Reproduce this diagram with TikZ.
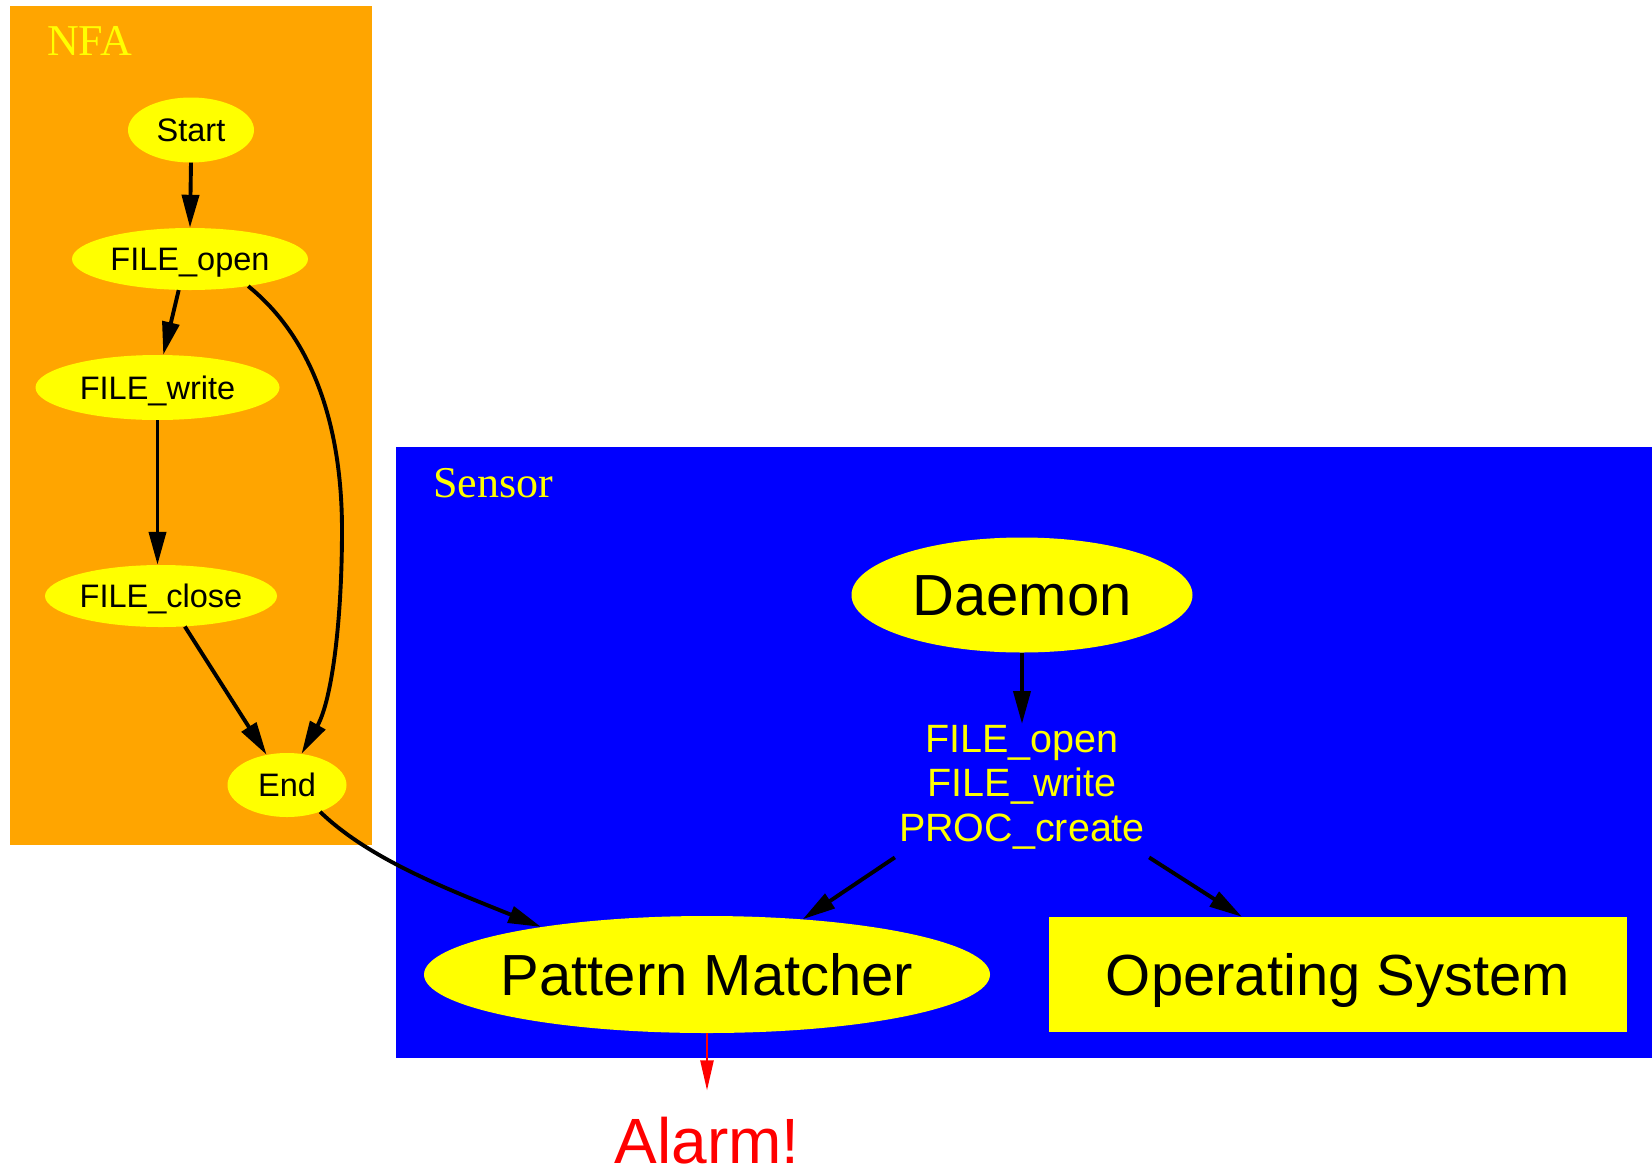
\documentclass[tikz,border=0pt]{standalone}
\usepackage{fontspec}
\setmainfont{Liberation Sans}
\newfontfamily\tmfont{Liberation Serif}
\usetikzlibrary{shapes.geometric,arrows.meta}
\definecolor{gvorange}{RGB}{255,165,0}
\definecolor{gvblue}{RGB}{0,0,255}
\definecolor{gvyellow}{RGB}{255,255,0}
\definecolor{gvred}{RGB}{255,0,0}
\begin{document}
\begin{tikzpicture}[x=1pt,y=-1pt,
  edge/.style={line width=3.9pt,-{Triangle[length=33pt,width=17pt]}},
  smallnode/.style={ellipse,fill=gvyellow,inner sep=0pt,font=\fontsize{32.5}{39}\selectfont,text height=23pt,text depth=0pt},
  bignode/.style={fill=gvyellow,inner sep=0pt,font=\fontsize{58}{70}\selectfont,text height=41.5pt,text depth=0pt},
  clabel/.style={text=gvyellow,font=\tmfont\fontsize{44}{52}\selectfont,inner sep=0pt,anchor=base west}]
\fill[white] (0,0) rectangle (1652,1173);
\useasboundingbox (0,0) rectangle (1652,1173);
% clusters
\fill[gvorange] (10,6) rectangle (372,845);
\fill[gvblue] (396,447) rectangle (1652,1058);
\node[clabel] (nfalbl) at (47,55) {NFA};
\node[clabel] (senslbl) at (433,497) {Sensor};
% NFA nodes
\node[smallnode,minimum width=126pt,minimum height=65pt] (start) at (191,130) {Start};
\node[smallnode,minimum width=236pt,minimum height=62pt] (fo) at (190,259) {FILE\_open};
\node[smallnode,minimum width=244pt,minimum height=65pt] (fw) at (157.5,387.5) {FILE\_write};
\node[smallnode,minimum width=232pt,minimum height=62pt] (fc) at (161,596) {FILE\_close};
\node[smallnode,minimum width=119pt,minimum height=64pt] (end) at (287,785) {End};
% Sensor nodes
\node[bignode,ellipse,minimum width=341pt,minimum height=115pt] (daemon) at (1022,595) {Daemon};
\node[anchor=north,text=gvyellow,align=center,inner xsep=4pt,inner ysep=8pt,font=\fontsize{39.5}{44.5}\selectfont] (lab) at (1022,717) {FILE\_open\\FILE\_write\\PROC\_create};
\node[bignode,ellipse,minimum width=566pt,minimum height=117pt] (pm) at (707,974.5) {\makebox[0pt]{Pattern Matcher}};
\node[bignode,rectangle,minimum width=578pt,minimum height=115pt] (os) at (1338,974.5) {Operating System};
\node[anchor=base,inner sep=0pt,text=gvred,font=\fontsize{64}{76}\selectfont] (alarm) at (707,1163) {Alarm!};
% edges
\draw[edge] (start.south) -- (fo.north);
\draw[edge] (fo.-110) -- (fw.80);
\draw[edge] (fo.-25) .. controls (315,340) and (342,430) .. (342,530) .. controls (342,620) and (332,700) .. (end.65);
\draw[edge] (fw.south) -- (fw.south |- fc.north);
\draw[edge] (fc.-52) -- (end.124);
\draw[edge] (end.-39) .. controls (370,860) and (450,890) .. (pm.164);
\draw[edge,shorten >=-7pt] (daemon.south) -- (lab.north);
\draw[edge] (lab.south west) -- (pm.30);
\draw[edge] (lab.south east) -- (os.149);
\draw[line width=2.4pt,draw=gvred,-{Triangle[length=30pt,width=13pt]},shorten >=26pt] (pm.south) -- (alarm.north);
\end{tikzpicture}
\end{document}
